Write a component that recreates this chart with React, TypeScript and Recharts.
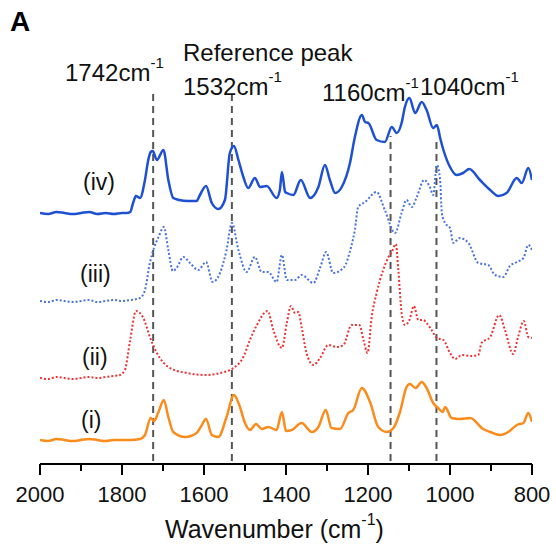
import { LineChart, Line, XAxis, YAxis, ReferenceLine } from "recharts";

// wavenumbers (cm-1) and offset intensities (a.u.)
const wnIv = [2000, 1980, 1960, 1940, 1920, 1900, 1880, 1860, 1840, 1820, 1800, 1788, 1780, 1773, 1766, 1756, 1744, 1736, 1730, 1725, 1715, 1699, 1687, 1675, 1660, 1640, 1618, 1610, 1595, 1581, 1565, 1549, 1537, 1527, 1516, 1504, 1492, 1476, 1463, 1447, 1423, 1415, 1410, 1402, 1398, 1382, 1364, 1341, 1321, 1305, 1293, 1280, 1264, 1244, 1232, 1215, 1207, 1199, 1179, 1159, 1142, 1130, 1118, 1110, 1099, 1085, 1069, 1057, 1041, 1032, 1024, 1016, 1000, 984, 968, 953, 927, 902, 882, 862, 837, 825, 809, 800];
const valIv = [251, 250, 252, 251, 250, 251, 252, 250, 251, 250, 251, 251, 252, 261, 268, 266, 284, 304, 312, 313, 304, 314, 284, 266, 264, 263, 263, 269, 278, 261, 255, 264, 311, 318, 304, 287, 276, 286, 277, 278, 266, 274, 292, 272, 271, 269, 284, 266, 277, 299, 284, 271, 277, 301, 327, 349, 342, 341, 324, 322, 337, 331, 341, 357, 366, 351, 362, 354, 336, 339, 326, 314, 297, 289, 291, 295, 284, 274, 268, 271, 286, 281, 296, 284];

const wnIii = [2000, 1980, 1960, 1940, 1920, 1900, 1880, 1860, 1840, 1820, 1800, 1780, 1756, 1744, 1732, 1722, 1711, 1698, 1687, 1676, 1667, 1650, 1634, 1614, 1595, 1579, 1561, 1545, 1532, 1516, 1496, 1476, 1459, 1443, 1423, 1410, 1398, 1378, 1362, 1333, 1317, 1302, 1285, 1260, 1240, 1232, 1224, 1207, 1179, 1159, 1134, 1118, 1106, 1093, 1081, 1063, 1049, 1041, 1032, 1024, 1020, 1012, 1000, 992, 976, 955, 931, 907, 890, 870, 854, 837, 821, 809, 800];
const valIii = [163, 162, 164, 163, 162, 163, 164, 162, 163, 164, 163, 164, 166, 174, 201, 216, 227, 237, 214, 193, 196, 207, 201, 194, 202, 182, 191, 214, 241, 214, 192, 207, 192, 192, 182, 209, 184, 184, 189, 181, 196, 212, 191, 196, 219, 234, 257, 262, 272, 254, 231, 251, 264, 257, 267, 284, 277, 269, 299, 284, 251, 241, 236, 221, 226, 221, 201, 199, 189, 187, 198, 202, 206, 219, 214];

const wnIi = [2000, 1980, 1960, 1940, 1920, 1900, 1880, 1860, 1840, 1820, 1805, 1793, 1780, 1766, 1748, 1732, 1715, 1683, 1642, 1593, 1561, 1528, 1504, 1488, 1471, 1445, 1431, 1410, 1398, 1388, 1378, 1370, 1362, 1350, 1333, 1317, 1297, 1276, 1260, 1240, 1221, 1211, 1201, 1191, 1179, 1163, 1150, 1142, 1132, 1126, 1118, 1110, 1099, 1088, 1077, 1065, 1057, 1045, 1032, 1016, 1000, 988, 971, 947, 931, 923, 902, 880, 866, 846, 834, 820, 809, 800];
const valIi = [86, 85, 87, 86, 85, 86, 87, 86, 87, 88, 89, 94, 124, 153, 146, 127, 111, 96, 91, 89, 91, 96, 107, 124, 139, 153, 134, 116, 141, 158, 151, 152, 137, 111, 99, 106, 119, 117, 119, 139, 139, 124, 111, 147, 171, 194, 207, 212, 220, 194, 151, 139, 144, 158, 144, 144, 141, 134, 126, 124, 111, 105, 109, 108, 109, 121, 127, 149, 134, 110, 127, 143, 127, 126];

const wnI = [2000, 1980, 1960, 1940, 1920, 1900, 1880, 1860, 1840, 1820, 1800, 1780, 1756, 1744, 1730, 1722, 1711, 1698, 1687, 1675, 1646, 1618, 1608, 1595, 1581, 1565, 1545, 1527, 1514, 1500, 1488, 1473, 1459, 1443, 1423, 1410, 1400, 1386, 1362, 1337, 1321, 1303, 1289, 1268, 1248, 1236, 1215, 1195, 1175, 1154, 1138, 1122, 1106, 1098, 1084, 1069, 1057, 1041, 1029, 1018, 1012, 996, 976, 951, 919, 902, 878, 858, 837, 821, 809, 800];
const valI = [24, 23, 25, 24, 23, 24, 25, 24, 23, 24, 24, 24, 25, 29, 46, 43, 52, 64, 47, 32, 27, 31, 37, 45, 29, 27, 47, 69, 59, 41, 34, 40, 35, 37, 34, 52, 33, 34, 41, 32, 37, 54, 36, 35, 51, 54, 76, 62, 37, 32, 36, 52, 77, 80, 76, 82, 76, 61, 56, 52, 57, 46, 45, 46, 35, 32, 29, 32, 39, 41, 51, 42];

const peakLines = [1724, 1532, 1145, 1033];
const peakTops = [370, 370, 328, 326];
const tickValues = [2000, 1900, 1800, 1700, 1600, 1500, 1400, 1300, 1200, 1100, 1000, 900, 800];

const toRows = (wn: number[], val: number[]) => wn.map((w, i) => ({ wn: w, v: val[i] }));

const FONT = "'Liberation Sans', Arial, sans-serif";

function WnTick(props: any) {
  const { x, y, payload } = props;
  const major = payload.value % 200 === 0;
  return (
    <g>
      <line x1={x} x2={x} y1={y} y2={y + (major ? 11 : 7)} stroke="#000" strokeWidth={2} />
      {major && (
        <text x={x} y={y + 38} textAnchor="middle" fontSize={22} fill="#111" fontFamily={FONT}>
          {payload.value}
        </text>
      )}
    </g>
  );
}

function Peak({ x, y, text }: { x: number; y: number; text: string }) {
  return (
    <text x={x} y={y} fontSize={24} fill="#111">
      {text}
      <tspan dy={-13} fontSize={15}>-1</tspan>
    </text>
  );
}

export default function App() {
  return (
    <div style={{ position: "absolute", left: 0, top: 0, width: 556, height: 552, background: "#fff" }}>
      <LineChart
        width={556}
        height={552}
        margin={{ top: 64, right: 24, left: 40, bottom: 0 }}
        style={{ fontFamily: FONT }}
      >
        <XAxis
          dataKey="wn"
          type="number"
          domain={[800, 2000]}
          reversed
          ticks={tickValues}
          interval={0}
          height={88}
          tickSize={0}
          tickMargin={0}
          tickLine={false}
          axisLine={{ stroke: "#000", strokeWidth: 2 }}
          tick={<WnTick />}
          allowDataOverflow
        />
        <YAxis hide domain={[0, 400]} type="number" allowDataOverflow />
        {peakLines.map((p, i) => (
          <ReferenceLine
            key={p}
            segment={[{ x: p, y: 3 }, { x: p, y: peakTops[i] }]}
            stroke="#555"
            strokeWidth={2}
            strokeDasharray="7 5"
          />
        ))}
        <Line data={toRows(wnIv, valIv)} dataKey="v" type="monotone" stroke="#1e50d2" strokeWidth={2.5} dot={false} isAnimationActive={false} />
        <Line data={toRows(wnIii, valIii)} dataKey="v" type="monotone" stroke="#4874dc" strokeWidth={2} strokeDasharray="2 2" dot={false} isAnimationActive={false} />
        <Line data={toRows(wnIi, valIi)} dataKey="v" type="monotone" stroke="#ee3333" strokeWidth={2} strokeDasharray="2 2" dot={false} isAnimationActive={false} />
        <Line data={toRows(wnI, valI)} dataKey="v" type="monotone" stroke="#fb8c1c" strokeWidth={2.5} dot={false} isAnimationActive={false} />
      </LineChart>
      <svg
        width={556}
        height={552}
        style={{ position: "absolute", left: 0, top: 0, pointerEvents: "none", fontFamily: FONT }}
      >
        <text x={10} y={31} fontSize={28} fontWeight="bold" fill="#000">A</text>
        <text x={183} y={61} fontSize={24} fill="#111">Reference peak</text>
        <Peak x={65} y={81} text="1742cm" />
        <Peak x={183} y={95} text="1532cm" />
        <Peak x={322} y={101} text="1160cm" />
        <Peak x={420} y={95} text="1040cm" />
        <text x={83} y={190} fontSize={23} fill="#111">(iv)</text>
        <text x={80} y={282} fontSize={23} fill="#111">(iii)</text>
        <text x={82} y={365} fontSize={23} fill="#111">(ii)</text>
        <text x={81} y={428} fontSize={23} fill="#111">(i)</text>
        <text x={165} y={538} fontSize={25} fill="#111">
          Wavenumber (cm
          <tspan dy={-13} fontSize={16}>-1</tspan>
          <tspan dy={13}>)</tspan>
        </text>
      </svg>
    </div>
  );
}
